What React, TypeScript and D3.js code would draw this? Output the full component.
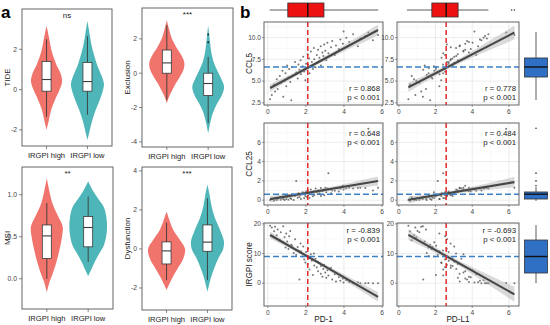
import React from 'react';
import * as d3 from 'd3';

// ---------- panel a : violins ----------
const groups = ['IRGPI high', 'IRGPI low'];
const groupColors = ['#F0736C', '#4EB6B8'];

// violin outlines: [value, density], bottom to top
const tideHigh = [[-2.0, 0], [-1.5, 0.13], [-1.0, 0.25], [-0.5, 0.46], [0, 0.71], [0.4, 0.84], [0.8, 0.76], [1.2, 0.55], [1.6, 0.38], [2.0, 0.25], [2.5, 0.15], [3.0, 0.04], [3.15, 0]];
const tideLow = [[-2.5, 0], [-2, 0.13], [-1.5, 0.27], [-1, 0.45], [-0.5, 0.67], [0, 0.85], [0.3, 0.89], [0.7, 0.76], [1.2, 0.53], [1.7, 0.36], [2.2, 0.22], [2.8, 0.11], [3.4, 0]];
const exclusionHigh = [[-1.75, 0], [-1.4, 0.11], [-1.0, 0.29], [-0.6, 0.48], [-0.2, 0.71], [0.2, 0.9], [0.6, 0.95], [1.0, 0.81], [1.5, 0.52], [2.0, 0.28], [2.6, 0.11], [3.1, 0]];
const exclusionLow = [[-3.5, 0], [-2.8, 0.13], [-2.3, 0.26], [-1.8, 0.47], [-1.3, 0.73], [-0.8, 0.86], [-0.3, 0.69], [0.2, 0.47], [0.7, 0.28], [1.2, 0.17], [1.8, 0.1], [2.3, 0.05], [2.8, 0]];
const msiHigh = [[-0.16, 0], [-0.05, 0.13], [0.05, 0.3], [0.2, 0.52], [0.35, 0.69], [0.5, 0.82], [0.62, 0.86], [0.75, 0.6], [0.9, 0.3], [1.05, 0.13], [1.2, 0]];
const msiLow = [[0.03, 0], [0.1, 0.15], [0.2, 0.35], [0.3, 0.6], [0.4, 0.85], [0.55, 1.0], [0.7, 1.0], [0.85, 0.85], [0.95, 0.55], [1.05, 0.25], [1.16, 0]];
const dysHigh = [[-2.1, 0], [-1.8, 0.15], [-1.5, 0.3], [-1.0, 0.6], [-0.5, 0.9], [0, 1.0], [0.5, 0.7], [1.0, 0.35], [1.5, 0.15], [1.9, 0]];
const dysLow = [[-2.2, 0], [-1.5, 0.18], [-1.0, 0.36], [-0.5, 0.58], [0, 0.85], [0.4, 0.89], [1.0, 0.67], [1.6, 0.4], [2.2, 0.22], [2.8, 0.11], [3.3, 0]];

// box stats: [whisker low, q1, median, q3, whisker high]
const tideHighBox = [-1.35, -0.08, 0.5, 1.4, 2.5];
const tideLowBox = [-1.25, -0.08, 0.4, 1.35, 2.65];
const exclusionHighBox = [-1.55, 0, 0.6, 1.35, 2.8];
const exclusionLowBox = [-2.9, -1.3, -0.6, 0, 0.95];
const exclusionLowOut = [1.8, 2.25];
const msiHighBox = [0.0, 0.24, 0.51, 0.64, 0.9];
const msiLowBox = [0.2, 0.38, 0.61, 0.74, 0.98];
const dysHighBox = [-1.6, -0.77, -0.1, 0.36, 1.35];
const dysLowBox = [-1.6, -0.12, 0.35, 1.23, 2.6];

// ---------- panel b : scatter ----------
const pd1 = [0.12, 0.21, 0.33, 0.38, 0.47, 0.52, 0.63, 0.68, 0.77, 0.81, 0.88, 0.93, 0.97, 1.02, 1.08, 1.12, 1.18, 1.23, 1.28, 1.36, 1.43, 1.49, 1.57, 1.61, 1.66, 1.72, 1.74, 1.83, 1.86, 1.91, 1.97, 2.01, 2.06, 2.09, 2.12, 2.17, 2.19, 2.26, 2.31, 2.37, 2.42, 2.44, 2.51, 2.57, 2.62, 2.64, 2.71, 2.78, 2.79, 2.87, 2.92, 2.96, 3.02, 3.07, 3.13, 3.18, 3.32, 3.38, 3.52, 3.58, 3.73, 3.81, 3.94, 3.98, 4.12, 4.27, 4.48, 4.73, 4.86, 5.12, 5.28, 5.52, 5.79];
const pdl1 = [0.52, 0.90, 0.61, 1.22, 0.83, 1.48, 0.70, 1.12, 1.93, 1.31, 0.95, 1.62, 2.21, 1.41, 1.78, 2.52, 1.02, 1.71, 2.03, 1.52, 2.63, 2.12, 1.83, 2.41, 1.33, 2.82, 2.22, 1.91, 3.02, 2.52, 2.31, 2.71, 1.63, 3.21, 2.61, 2.92, 2.42, 3.52, 2.72, 2.02, 3.12, 2.83, 3.41, 2.52, 3.02, 3.62, 2.33, 3.31, 2.93, 3.82, 3.13, 2.62, 3.52, 3.22, 4.02, 2.42, 2.83, 3.72, 4.22, 3.32, 3.92, 4.42, 3.62, 4.12, 4.62, 3.82, 4.88, 4.32, 4.80, 4.70, 5.85, 4.50, 6.30];
const ccl5 = [2.9, 3.4, 4.6, 3.8, 5.2, 4.1, 5.6, 4.8, 6.2, 3.2, 5.0, 5.9, 4.4, 6.8, 5.4, 6.4, 4.9, 2.8, 6.6, 5.7, 7.2, 6.0, 5.3, 6.9, 6.3, 7.4, 5.8, 6.7, 7.8, 6.1, 5.1, 7.0, 6.5, 8.1, 6.9, 7.6, 5.9, 8.4, 7.2, 6.4, 8.8, 7.5, 6.6, 8.0, 7.1, 8.6, 7.7, 9.0, 6.8, 8.3, 7.9, 9.2, 8.5, 7.4, 9.4, 8.2, 8.9, 9.6, 8.0, 9.1, 8.7, 9.8, 9.3, 10.7, 10.0, 9.5, 10.4, 9.0, 9.9, 10.2, 10.6, 9.7, 10.3];
const ccl25 = [0.02, 0.12, -0.05, 0.21, 0.03, 0.14, 0.31, 0.04, 0.22, 0.11, 0.01, 0.42, 0.13, 0.33, 0.05, 0.52, 0.23, 0.12, 0.61, 0.02, 0.44, 2.0, 0.24, 0.71, 0.32, 0.53, 0.13, 0.82, 0.63, 0.21, 0.43, 0.91, 0.34, 1.02, 0.52, 0.72, 0.22, 1.1, 0.61, 0.41, 0.92, 0.53, 1.2, 0.81, 0.62, 1.0, 0.72, 1.25, 0.42, 0.93, 1.1, 0.51, 1.3, 0.82, 1.2, 2.8, 0.71, 1.0, 0.98, 1.3, 0.9, 1.2, 1.5, 1.1, 1.2, 1.3, 1.2, 1.25, 1.3, 1.25, 7.4, 1.0, 1.3];
const irgpi = [19.4, 18.8, 17.5, 19.0, 16.2, 18.1, 14.5, 17.2, 13.8, 19.2, 15.5, 12.0, 16.8, 14.1, 11.5, 15.8, 17.6, 13.0, 12.6, 10.2, 14.8, 9.5, 12.2, 11.0, 1.2, 13.4, 10.8, 9.0, 12.4, 8.0, 7.0, 10.5, 9.2, 6.5, 11.6, 8.4, 4.6, 9.8, 7.6, 2.8, 10.0, 6.0, 8.2, 5.4, 7.2, 4.0, 6.8, 3.2, 5.8, 2.2, 4.8, 6.2, 3.6, 1.8, 4.4, 2.6, 5.2, 1.2, 3.0, 0.6, 2.0, 0.8, 1.6, 0.2, 1.0, 0.4, 0.0, 0.3, 0.0, 0.0, 0.1, 0.0, 0.0];

// marginal box stats [whisker low, q1, median, q3, whisker high]
const pd1Box = [0.1, 1.05, 2.1, 2.95, 5.8];
const pdl1Box = [0.44, 1.8, 2.58, 3.23, 4.88];
const pdl1Out = [6.15, 6.3];
const ccl5Box = [2.82, 5.47, 6.62, 7.66, 10.65];
const ccl25Box = [-0.08, 0.12, 0.62, 0.85, 1.35];
const ccl25Out = [1.5, 2.0, 2.8, 7.45];
const irgpiBox = [0, 3.43, 9.0, 14.56, 19.6];

// fitted lines, rows: CCL5, CCL25, IRGPI; cols: PD-1, PD-L1
const fitIntercept = [[4.07, 3.72], [0.07, -0.13], [16.7, 18.1]];
const fitSlope = [[1.176, 1.09], [0.33, 0.318], [-3.68, -3.47]];
const rValues = [['0.868', '0.778'], ['0.648', '0.484'], ['-0.839', '-0.693']];

const FONT = "'Liberation Sans', Arial, Helvetica, sans-serif";
const wScale = d3.scaleLinear().domain([0, 1]).range([0, 18.5]);

const violinPanels = [
  { title: 'TIDE', sig: 'ns', left: 22, right: 112, top: 9, bottom: 146, domain: [-2.8, 4.0], ticks: [-2, 0, 2], digits: 0, titleX: 7, shapes: [tideHigh, tideLow], boxes: [tideHighBox, tideLowBox], outliers: [[], []] },
  { title: 'Exclusion', sig: '***', left: 142, right: 233, top: 8, bottom: 147, domain: [-4.3, 3.8], ticks: [-4, -2, 0, 2], digits: 0, titleX: 127, shapes: [exclusionHigh, exclusionLow], boxes: [exclusionHighBox, exclusionLowBox], outliers: [[], exclusionLowOut] },
  { title: 'MSI', sig: '**', left: 22, right: 113, top: 167, bottom: 309, domain: [-0.36, 1.33], ticks: [0, 0.5, 1], digits: 1, titleX: 7, shapes: [msiHigh, msiLow], boxes: [msiHighBox, msiLowBox], outliers: [[], []] },
  { title: 'Dysfunction', sig: '***', left: 142, right: 232, top: 167, bottom: 310, domain: [-3.13, 4.2], ticks: [-2, 0, 2, 4], digits: 0, titleX: 127, shapes: [dysHigh, dysLow], boxes: [dysHighBox, dysLowBox], outliers: [[], []] },
];

const cols = [
  { name: 'PD-1', values: pd1, x0: 264, x1: 383, domain: [-0.2, 6.05], box: pd1Box, out: [] as number[] },
  { name: 'PD-L1', values: pdl1, x0: 397, x1: 519, domain: [-0.1, 6.55], box: pdl1Box, out: pdl1Out },
];
const rows = [
  { name: 'CCL5', values: ccl5, y0: 22, y1: 105, domain: [2.25, 11.8], ticks: [2.5, 5, 7.5, 10], minor: [3.75, 6.25, 8.75, 11.25], digits: 1, box: ccl5Box, out: [] as number[], rY: 88 },
  { name: 'CCL25', values: ccl25, y0: 123, y1: 205, domain: [-0.5, 8], ticks: [0, 2, 4, 6], minor: [1, 3, 5, 7], digits: 0, box: ccl25Box, out: ccl25Out, rY: 133 },
  { name: 'IRGPI score', values: irgpi, y0: 223, y1: 306, domain: [-7.7, 20.3], ticks: [0, 10, 20], minor: [-5, 5, 15], digits: 0, box: irgpiBox, out: [] as number[], rY: 230 },
];

const fmtNum = (v: number, digits: number) => (digits ? v.toFixed(digits) : String(v));

function ViolinPanel({ p }: { p: any }) {
  const y = d3.scaleLinear().domain(p.domain).range([p.bottom, p.top]);
  const x = d3.scalePoint<string>().domain(groups).range([p.left, p.right]).padding(0.6);
  const bw = 9;
  return (
    <g>
      <rect x={p.left} y={p.top} width={p.right - p.left} height={p.bottom - p.top} fill="white" stroke="#555" strokeWidth={0.9} />
      {groups.map((g, i) => {
        const cx = x(g)!;
        const area = d3.area<number[]>()
          .y((d) => y(d[0]))
          .x0((d) => cx - wScale(d[1]))
          .x1((d) => cx + wScale(d[1]))
          .curve(d3.curveCatmullRom);
        const b = p.boxes[i];
        return (
          <g key={g}>
            <path d={area(p.shapes[i]) || ''} fill={groupColors[i]} />
            <line x1={cx} x2={cx} y1={y(b[0])} y2={y(b[4])} stroke="#3a3a3a" strokeWidth={0.9} />
            <rect x={cx - bw / 2} y={y(b[3])} width={bw} height={y(b[1]) - y(b[3])} fill="white" stroke="#3a3a3a" strokeWidth={0.8} />
            <line x1={cx - bw / 2} x2={cx + bw / 2} y1={y(b[2])} y2={y(b[2])} stroke="#3a3a3a" strokeWidth={1.1} />
            {p.outliers[i].map((v: number, k: number) => (
              <circle key={k} cx={cx} cy={y(v)} r={1} fill="#222" />
            ))}
            <line x1={cx} x2={cx} y1={p.bottom} y2={p.bottom + 3} stroke="#555" strokeWidth={0.7} />
            <text x={cx} y={p.bottom + 9} dy="0.35em" textAnchor="middle" fontSize={7.6} fill="#222">{g}</text>
          </g>
        );
      })}
      {p.ticks.map((t: number) => (
        <g key={t}>
          <line x1={p.left - 3} x2={p.left} y1={y(t)} y2={y(t)} stroke="#555" strokeWidth={0.7} />
          <text x={p.left - 5} y={y(t)} dy="0.35em" textAnchor="end" fontSize={6.8} fill="#444">{fmtNum(t, p.digits)}</text>
        </g>
      ))}
      <text x={(p.left + p.right) / 2} y={p.top + 6} dy="0.35em" textAnchor="middle" fontSize={8} fill="#222">{p.sig}</text>
      <text transform={`translate(${p.titleX},${(p.top + p.bottom) / 2}) rotate(-90)`} textAnchor="middle" dy="0.35em" fontSize={8} fill="#222">{p.title}</text>
    </g>
  );
}

function ScatterPanel({ r, c }: { r: number; c: number }) {
  const col = cols[c];
  const row = rows[r];
  const x = d3.scaleLinear().domain(col.domain).range([col.x0, col.x1]);
  const y = d3.scaleLinear().domain(row.domain).range([row.y1, row.y0]);
  const xs = col.values;
  const ys = row.values;
  const a = fitIntercept[r][c];
  const b = fitSlope[r][c];
  const n = xs.length;
  const mx = d3.mean(xs)!;
  const sxx = d3.sum(xs, (v) => (v - mx) ** 2);
  const s = Math.sqrt(d3.sum(xs, (v, i) => (ys[i] - (a + b * v)) ** 2) / (n - 2));
  const [xmin, xmax] = d3.extent(xs) as [number, number];
  const xgrid = d3.ticks(xmin, xmax, 40).concat([xmin, xmax]).sort((p, q) => p - q);
  const se = (v: number) => 1.96 * s * Math.sqrt(1 / n + (v - mx) ** 2 / sxx);
  const band = d3.area<number>().x((v) => x(v)).y0((v) => y(a + b * v - se(v))).y1((v) => y(a + b * v + se(v)));
  const fit = d3.line<number>().x((v) => x(v)).y((v) => y(a + b * v));
  const clipId = `clip-${r}-${c}`;
  const xMajor = [0, 2, 4, 6];
  const xMinor = [1, 3, 5];
  const w = col.x1 - col.x0;
  const h = row.y1 - row.y0;
  return (
    <g>
      <defs>
        <clipPath id={clipId}>
          <rect x={col.x0} y={row.y0} width={w} height={h} />
        </clipPath>
      </defs>
      <rect x={col.x0} y={row.y0} width={w} height={h} fill="white" />
      <g clipPath={`url(#${clipId})`}>
        {xMinor.map((t) => <line key={'xm' + t} x1={x(t)} x2={x(t)} y1={row.y0} y2={row.y1} stroke="#F2F2F2" strokeWidth={0.5} />)}
        {row.minor.map((t) => <line key={'ym' + t} x1={col.x0} x2={col.x1} y1={y(t)} y2={y(t)} stroke="#F2F2F2" strokeWidth={0.5} />)}
        {xMajor.map((t) => <line key={'xM' + t} x1={x(t)} x2={x(t)} y1={row.y0} y2={row.y1} stroke="#E4E4E4" strokeWidth={0.7} />)}
        {row.ticks.map((t) => <line key={'yM' + t} x1={col.x0} x2={col.x1} y1={y(t)} y2={y(t)} stroke="#E4E4E4" strokeWidth={0.7} />)}
        {xs.map((v, i) => (
          <circle key={i} cx={x(v)} cy={y(ys[i])} r={1} fill="#4a4a4a" fillOpacity={0.75} />
        ))}
        <path d={band(xgrid) || ''} fill="#a8a8a8" fillOpacity={0.42} />
        <path d={fit([xmin, xmax]) || ''} stroke="#474747" strokeWidth={2.1} fill="none" />
        <line x1={col.x0} x2={col.x1} y1={y(row.box[2])} y2={y(row.box[2])} stroke="#3C80C6" strokeWidth={1.4} strokeDasharray="6,3" />
        <line x1={x(col.box[2])} x2={x(col.box[2])} y1={row.y0} y2={row.y1} stroke="#E41A1C" strokeWidth={1.4} strokeDasharray="5,3" />
      </g>
      <rect x={col.x0} y={row.y0} width={w} height={h} fill="none" stroke="#555" strokeWidth={0.9} />
      {xMajor.map((t) => (
        <g key={'xt' + t}>
          <line x1={x(t)} x2={x(t)} y1={row.y1} y2={row.y1 + 2} stroke="#555" strokeWidth={0.6} />
          <text x={x(t)} y={row.y1 + 6.5} dy="0.35em" textAnchor="middle" fontSize={6.6} fill="#444">{t}</text>
        </g>
      ))}
      {row.ticks.map((t) => (
        <g key={'yt' + t}>
          <line x1={col.x0 - 2} x2={col.x0} y1={y(t)} y2={y(t)} stroke="#555" strokeWidth={0.6} />
          <text x={col.x0 - 3} y={y(t)} dy="0.35em" textAnchor="end" fontSize={6.6} fill="#444">{fmtNum(t, row.digits)}</text>
        </g>
      ))}
      <text x={col.x1 - 3} y={row.rY} dy="0.35em" textAnchor="end" fontSize={7.8} fill="#222">{`r = ${rValues[r][c]}`}</text>
      <text x={col.x1 - 3} y={row.rY + 9.5} dy="0.35em" textAnchor="end" fontSize={7.8} fill="#222">p &lt; 0.001</text>
    </g>
  );
}

function TopBox({ c }: { c: number }) {
  const col = cols[c];
  const x = d3.scaleLinear().domain(col.domain).range([col.x0, col.x1]);
  const b = col.box;
  const cy = 10;
  const hh = 7;
  return (
    <g>
      <line x1={x(b[0])} x2={x(b[4])} y1={cy} y2={cy} stroke="#333" strokeWidth={0.8} />
      <rect x={x(b[1])} y={cy - hh} width={x(b[3]) - x(b[1])} height={hh * 2} fill="#EE1111" stroke="#333" strokeWidth={0.8} />
      <line x1={x(b[2])} x2={x(b[2])} y1={cy - hh} y2={cy + hh} stroke="#111" strokeWidth={1.4} />
      {col.out.map((v, k) => <circle key={k} cx={x(v)} cy={cy} r={0.8} fill="#333" />)}
    </g>
  );
}

function RightBox({ r }: { r: number }) {
  const row = rows[r];
  const y = d3.scaleLinear().domain(row.domain).range([row.y1, row.y0]);
  const b = row.box;
  const cx = 536;
  const hw = 11.5;
  return (
    <g>
      <line x1={cx} x2={cx} y1={y(b[0])} y2={y(b[4])} stroke="#333" strokeWidth={0.8} />
      <rect x={cx - hw} y={y(b[3])} width={hw * 2} height={y(b[1]) - y(b[3])} fill="#2F6FC4" stroke="#333" strokeWidth={0.8} />
      <line x1={cx - hw} x2={cx + hw} y1={y(b[2])} y2={y(b[2])} stroke="#111" strokeWidth={1.4} />
      {row.out.map((v, k) => <circle key={k} cx={cx} cy={y(v)} r={0.8} fill="#333" />)}
    </g>
  );
}

export default function App() {
  return (
    <svg width={550} height={325} style={{ position: 'absolute', left: 0, top: 0, background: 'white' }} fontFamily={FONT}>
      <rect width={550} height={325} fill="white" />
      {violinPanels.map((p) => <ViolinPanel key={p.title} p={p} />)}
      {rows.map((row, r) => cols.map((col, c) => <ScatterPanel key={`${r}-${c}`} r={r} c={c} />))}
      {cols.map((col, c) => <TopBox key={col.name} c={c} />)}
      {rows.map((row, r) => <RightBox key={row.name} r={r} />)}
      {rows.map((row) => (
        <text key={row.name} transform={`translate(249,${(row.y0 + row.y1) / 2}) rotate(-90)`} textAnchor="middle" dy="0.35em" fontSize={8.2} fill="#222">{row.name}</text>
      ))}
      {cols.map((col) => (
        <text key={col.name} x={(col.x0 + col.x1) / 2} y={319} dy="0.35em" textAnchor="middle" fontSize={8.2} fill="#222">{col.name}</text>
      ))}
      <text x={1} y={18} fontSize={17} fontWeight="bold" fill="#000">a</text>
      <text x={240} y={18} fontSize={17} fontWeight="bold" fill="#000">b</text>
    </svg>
  );
}
